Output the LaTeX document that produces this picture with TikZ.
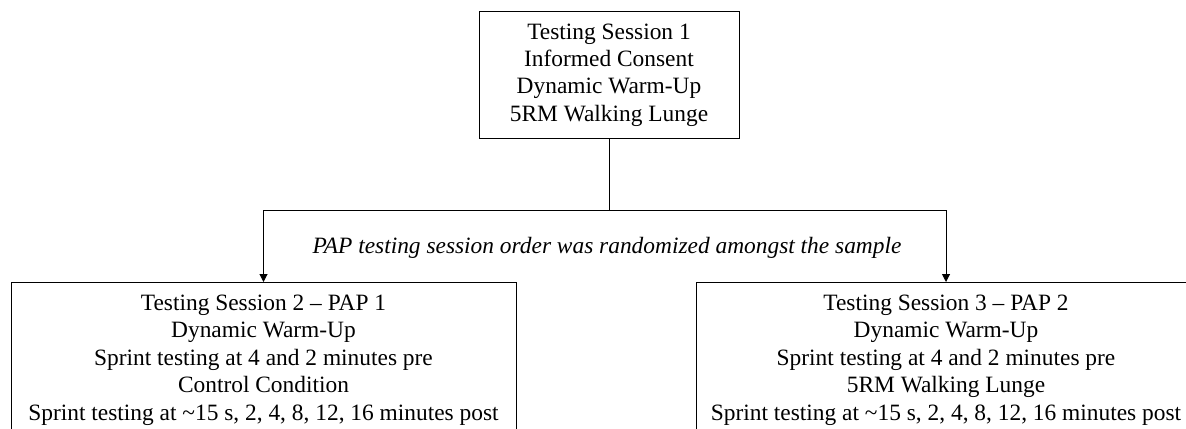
\documentclass[tikz,border=0pt]{standalone}
\usepackage{fontspec}
\setmainfont{Liberation Serif}
\usetikzlibrary{arrows.meta}
\begin{document}
\begin{tikzpicture}[x=0.5pt,y=-0.5pt,
  box/.style={draw=black, line width=0.5pt, align=center, inner xsep=4pt, inner ysep=6.2pt,
    font=\fontsize{11.7pt}{13.7pt}\selectfont},
  conn/.style={line width=0.5pt},
  arr/.style={conn,-{Triangle[length=4pt,width=4pt]}},
  note/.style={font=\fontsize{11.7pt}{13.7pt}\selectfont\itshape, inner sep=0pt}]
\useasboundingbox (0,0) rectangle (1186,428);
\clip (0,0) rectangle (1186,428);
\node[box, minimum width=130pt, minimum height=62pt] (s1) at (609,75)
  {Testing Session 1\\Informed Consent\\Dynamic Warm-Up\\5RM Walking Lunge};
\node[box, anchor=north, minimum width=252.5pt, text depth=12pt] (s2) at (263.5,282)
  {Testing Session 2 -- PAP 1\\Dynamic Warm-Up\\Sprint testing at 4 and 2 minutes pre\\Control Condition\\Sprint testing at \textasciitilde15 s, 2, 4, 8, 12, 16 minutes post};
\node[box, anchor=north, minimum width=250pt, text depth=12pt] (s3) at (946,282)
  {Testing Session 3 -- PAP 2\\Dynamic Warm-Up\\Sprint testing at 4 and 2 minutes pre\\5RM Walking Lunge\\Sprint testing at \textasciitilde15 s, 2, 4, 8, 12, 16 minutes post};
\coordinate (j) at (609,210);
\node[note, anchor=base] (lbl) at (607,253) {PAP testing session order was randomized amongst the sample};
\draw[conn] (s1.south) -- (j);
\draw[arr] (j) -| (s2.north);
\draw[arr] (j) -| (s3.north);
\end{tikzpicture}
\end{document}
